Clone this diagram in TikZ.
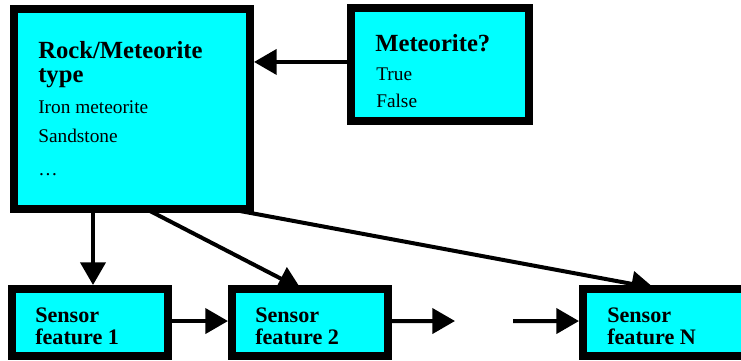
\documentclass[tikz,border=0pt]{standalone}
\usepackage{fontspec}
\setmainfont{Liberation Serif}
\usetikzlibrary{arrows.meta,calc}
\pgfdeclarelayer{background}
\pgfsetlayers{background,main}
\definecolor{boxcyan}{HTML}{00FFFF}
\tikzset{
  box/.style={draw=black, line width=6pt, fill=boxcyan, rectangle, inner sep=0pt},
  link/.style={line width=3pt, -{Triangle[length=17pt,width=18.75pt]}},
  head/.style={anchor=base west, inner sep=0pt, font=\fontsize{18.5}{20}\selectfont\bfseries},
  item/.style={anchor=base west, inner sep=0pt, font=\fontsize{14.5}{16}\selectfont},
  sens/.style={anchor=base west, inner sep=0pt, font=\fontsize{16.6}{18}\selectfont\bfseries},
}
\begin{document}
\begin{tikzpicture}[x=0.75pt, y=-0.75pt]
  \clip (0,0) rectangle (741,360);

  % boxes
  \node[box, minimum width=177pt, minimum height=150pt] (rock) at (132,109) {};
  \node[box, minimum width=133.5pt, minimum height=84.75pt] (meteor) at (440,64.5) {};
  \node[box, minimum width=117pt, minimum height=50.25pt] (s1) at (90,322.5) {};
  \node[box, minimum width=117pt, minimum height=50.25pt] (s2) at (310,322.5) {};
  \node[box, minimum width=140.25pt, minimum height=50.25pt] (sN) at (676.5,322.5) {};

  % texts
  \node[head] (rockA) at (38,59) {Rock/Meteorite};
  \node[head] (rockB) at (38,83) {type};
  \node[item] (rockC) at (38,113) {Iron meteorite};
  \node[item] (rockD) at (38,142) {Sandstone};
  \node[item] (rockE) at (38,175) {…};

  \node[head] (metA) at (375,51) {Meteorite?};
  \node[item] (metB) at (376,80) {True};
  \node[item] (metC) at (376,107) {False};

  \node[sens] (s1a) at (35,322) {Sensor};
  \node[sens] (s1b) at (35,344) {feature 1};
  \node[sens] (s2a) at (255,322) {Sensor};
  \node[sens] (s2b) at (255,344) {feature 2};
  \node[sens] (sNa) at (607,322) {Sensor};
  \node[sens] (sNb) at (607,344) {feature N};

  % connection points
  \coordinate (mIn) at ([yshift=1.9pt]meteor.west);
  \coordinate (d1) at ([xshift=2.25pt]s1.north);
  \coordinate (gapL) at (455,321);
  \coordinate (gapR) at (513,321);

  % connectors, kept behind the boxes
  \begin{pgfonlayer}{background}
    \draw[link] (mIn) -- (mIn -| rock.east);
    \draw[link] (d1 |- rock.south) -- (d1);
    \draw[link] ($(rock.south west)+(140,-2)$) -- ($(s2.north west)+(73,4)$);
    \draw[link] ($(rock.south west)+(230,-2)$) -- ($(sN.north west)+(75,3)$);
    \draw[link] ([yshift=1.1pt]s1.east) -- ([yshift=1.1pt]s2.west);
    \draw[link] ([yshift=1.1pt]s2.east) -- (gapL);
    \draw[link] (gapR) -- ([yshift=1.1pt]sN.west);
  \end{pgfonlayer}
\end{tikzpicture}
\end{document}
